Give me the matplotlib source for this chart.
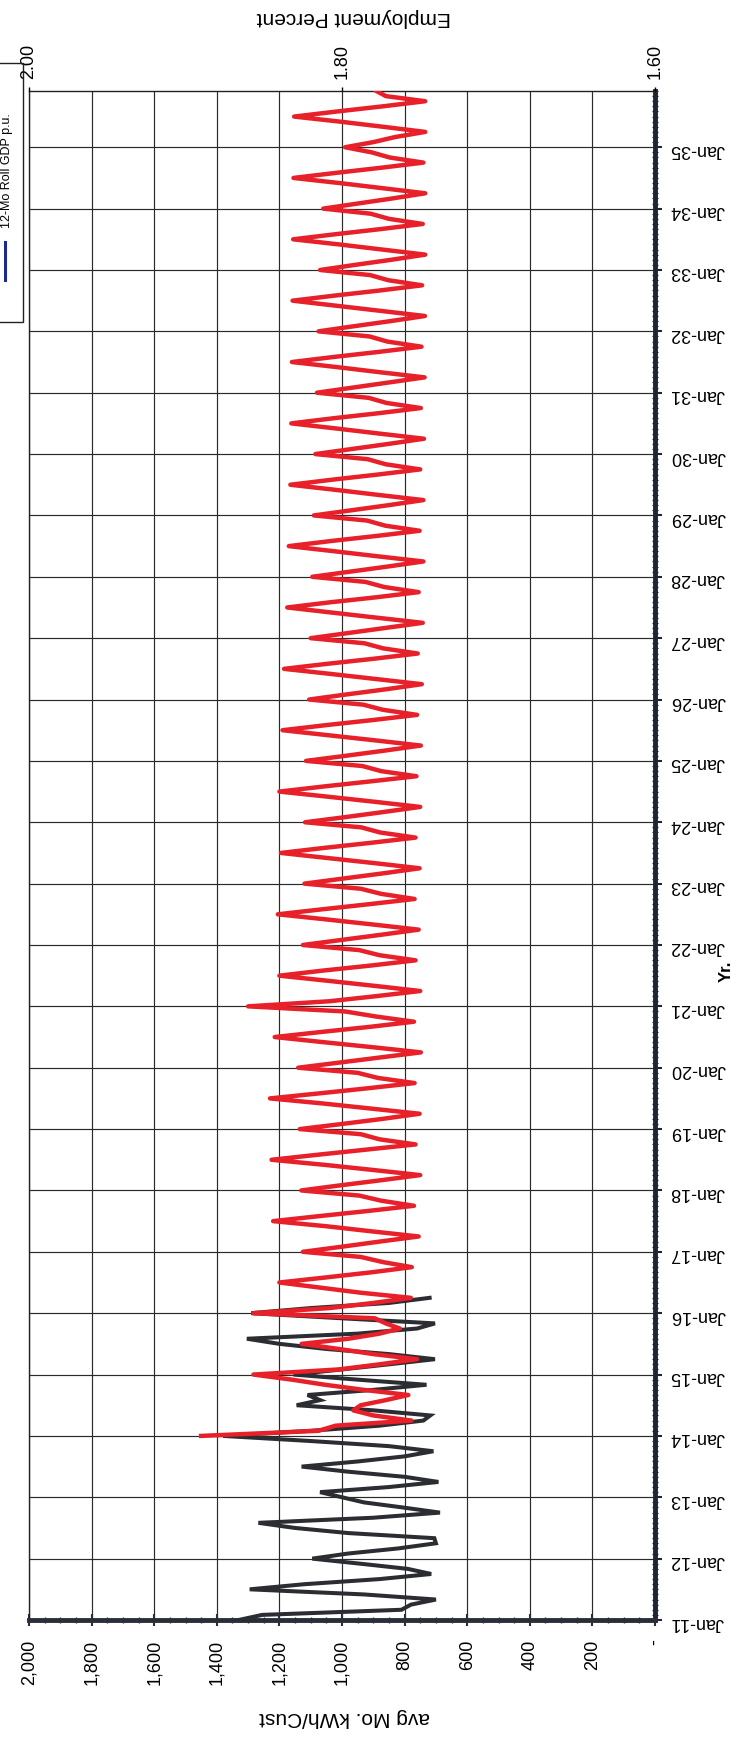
import matplotlib
matplotlib.use("Agg")
import matplotlib.pyplot as plt
from matplotlib.patches import Rectangle
from matplotlib.lines import Line2D
from matplotlib.ticker import FixedLocator, MultipleLocator, FuncFormatter
import numpy as np

plt.rcParams['font.family'] = ['Liberation Sans', 'DejaVu Sans']

# ---- data -----------------------------------------------------------------
# Month index 0 = Jan-11
year_labels = [f"Jan-{y:02d}" for y in range(11, 36)]
kwh_ticks = list(range(0, 2001, 200))
employment_ticks = [2.00, 1.80, 1.60]

# Actual average monthly kWh per customer, Jan-11 .. Apr-16
actual_kwh = [
    1330, 1255, 810, 780, 700, 930, 1295, 1120, 880, 715, 790, 940,      # 2011
    1095, 980, 820, 700, 705, 980, 1150, 1267, 900, 687, 805, 930,       # 2012
    1000, 1070, 850, 692, 800, 980, 1129, 950, 800, 708, 850, 1100,      # 2013
    1380, 1100, 880, 740, 718, 900, 1145, 1070, 1110, 900, 730, 950,     # 2014
    1155, 1000, 850, 703, 850, 1050, 1200, 1304, 950, 760, 703, 1000,    # 2015
    1290, 1100, 850, 720,                                                # 2016
]

# Forecast average monthly kWh per customer, Jan-14 .. Dec-35
forecast_2014_2016 = [
    1450, 1075, 1020, 778, 900, 964, 940, 860, 788, 930, 1054, 1160,
    1283, 1010, 880, 760, 900, 1010, 1129, 980, 880, 815, 860, 895,
    1283, 1040, 900, 780, 940, 1070, 1200, 1050, 905, 777, 870, 940,
]
forecast_2017_2025 = [
    1125, 1000, 880, 755, 905, 1050, 1220, 1070, 915, 770, 875, 945,
    1130, 1005, 875, 750, 900, 1055, 1225, 1075, 920, 765, 880, 940,
    1135, 1000, 870, 752, 905, 1060, 1230, 1070, 915, 768, 885, 950,
    1140, 1010, 880, 748, 900, 1060, 1215, 1065, 910, 770, 890, 990,
    1300, 1040, 890, 750, 895, 1045, 1200, 1060, 905, 765, 880, 945,
    1125, 1000, 875, 755, 900, 1050, 1205, 1060, 910, 768, 875, 940,
    1120, 995, 870, 752, 895, 1045, 1195, 1055, 905, 765, 878, 938,
    1118, 990, 868, 750, 895, 1045, 1200, 1058, 908, 762, 875, 935,
    1115, 988, 865, 748, 892, 1040, 1190, 1050, 900, 760, 870, 932,
]
forecast_2026_2035 = [
    1105, 985, 860, 745, 890, 1035, 1185, 1045, 895, 758, 868, 928,
    1100, 980, 858, 742, 888, 1030, 1175, 1040, 890, 755, 865, 925,
    1095, 975, 855, 740, 885, 1025, 1170, 1035, 888, 752, 862, 920,
    1090, 972, 852, 740, 882, 1020, 1165, 1030, 885, 750, 860, 918,
    1085, 968, 850, 738, 880, 1018, 1162, 1028, 882, 748, 858, 915,
    1080, 965, 848, 736, 878, 1015, 1160, 1025, 880, 746, 855, 912,
    1075, 962, 845, 735, 875, 1012, 1158, 1022, 878, 744, 852, 910,
    1070, 958, 842, 734, 872, 1010, 1156, 1020, 876, 742, 850, 908,
    1060, 950, 838, 734, 870, 1008, 1155, 1018, 874, 740, 848, 905,
    990, 900, 830, 734, 868, 1005, 1153, 1015, 870, 734, 860, 890,
]
forecast_start_month = 36   # Jan-14
last_month = 299            # Dec-35

forecast_kwh = forecast_2014_2016 + forecast_2017_2025 + forecast_2026_2035
actual_months = np.arange(len(actual_kwh))
forecast_months = forecast_start_month + np.arange(len(forecast_kwh))

# ---- figure (page is turned: time runs upward, kWh runs right-to-left) ----
W, H = 732, 1743
fig = plt.figure(figsize=(W / 100, H / 100), dpi=100)
fig.patch.set_facecolor('white')


def fx(px):
    return px / W


def fy(py):
    return 1 - py / H


left, right, top, bottom = 29, 655, 91, 1620
ax = fig.add_axes([fx(left), fy(bottom), (right - left) / W, (bottom - top) / H])

ax.plot(actual_kwh, actual_months, color='#2b2d33', lw=2.9,
        solid_joinstyle='miter', zorder=3)
ax.plot(forecast_kwh, forecast_months, color='#e8202a', lw=3.2,
        solid_joinstyle='round', zorder=4)

ax.set_xlim(2000, 0)
ax.set_ylim(0, last_month)

# kWh axis (bottom)
ax.xaxis.set_major_locator(FixedLocator(kwh_ticks))
ax.xaxis.set_minor_locator(MultipleLocator(50))
ax.xaxis.set_major_formatter(FuncFormatter(lambda v, p: '-' if v == 0 else f'{v:,.0f}'))
ax.tick_params(axis='x', which='major', bottom=True, top=False, direction='inout',
               length=8, width=1.5, color='#2a2e38', pad=10, labelsize=13,
               labelrotation=90)
ax.tick_params(axis='x', which='minor', bottom=True, top=False, direction='inout',
               length=5, width=1.0, color='#2a2e38')

# time axis (right)
ax.yaxis.tick_right()
ax.yaxis.set_major_locator(FixedLocator(np.arange(len(year_labels)) * 12))
ax.yaxis.set_major_formatter(FuncFormatter(lambda v, p: year_labels[int(round(v / 12))]
                                           if 0 <= int(round(v / 12)) < len(year_labels) else ''))
ax.yaxis.set_minor_locator(MultipleLocator(1))
ax.tick_params(axis='y', which='major', right=True, left=False, direction='out',
               length=5, width=1.5, color='#1f2633', pad=6, labelsize=13,
               labelrotation=180)
ax.tick_params(axis='y', which='minor', right=True, left=False, direction='inout',
               length=4, width=0.9, color='#1f2633')

ax.grid(True, which='major', color='#2a2a2a', lw=0.85, zorder=1)
ax.set_axisbelow(True)

for side in ('top', 'left'):
    ax.spines[side].set_linewidth(1.0)
    ax.spines[side].set_color('#222222')
ax.spines['right'].set_linewidth(3.5)
ax.spines['right'].set_color('#1f2633')
ax.spines['bottom'].set_linewidth(3.5)
ax.spines['bottom'].set_color('#2a2e38')

# secondary employment axis (top)
ax2 = ax.twiny()
ax2.set_xlim(2.00, 1.60)
ax2.xaxis.set_major_locator(FixedLocator(employment_ticks))
ax2.xaxis.set_major_formatter(FuncFormatter(lambda v, p: f'{v:.2f}'))
ax2.tick_params(axis='x', which='major', top=True, bottom=False, direction='out',
               length=3, width=1.0, pad=6, labelsize=13, labelrotation=90)
for s in ax2.spines.values():
    s.set_visible(False)

# axis titles
fig.text(fx(345), fy(1718), 'avg Mo. kWh/Cust', rotation=180,
         ha='center', va='center', fontsize=15)
fig.text(fx(354), fy(18), 'Employment Percent', rotation=180,
         ha='center', va='center', fontsize=15)
fig.text(fx(726), fy(971), 'Yr.', rotation=90, ha='center', va='center',
         fontsize=12, fontweight='bold')

# legend box (runs off the page edge)
fig.add_artist(Rectangle((fx(-10), fy(322)), 33 / W, (322 - 63) / H,
                         transform=fig.transFigure, fill=False,
                         ec='#222222', lw=1.0))
fig.text(fx(7), fy(171), '12-Mo Roll GDP p.u.', rotation=90,
         ha='center', va='center', fontsize=9)
fig.add_artist(Line2D([fx(5), fx(5)], [fy(242), fy(280)],
                      transform=fig.transFigure, color='#1d2a8c', lw=2.2))

fig.savefig('out.png', dpi=100, facecolor='white')
